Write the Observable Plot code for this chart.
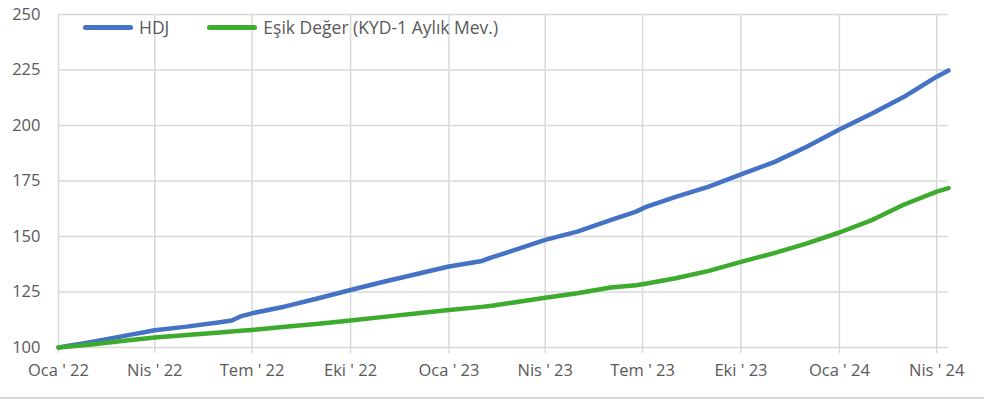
<!DOCTYPE html>
<html>
<head>
<meta charset="utf-8">
<script src="https://cdn.jsdelivr.net/npm/d3@7"></script>
<script src="https://cdn.jsdelivr.net/npm/@observablehq/plot@0.6"></script>
<style>
  html, body { margin: 0; padding: 0; background: #fff; }
  #wrap { position: relative; width: 984px; height: 400px; font-family: "Open Sans", sans-serif; }
  #legend { position: absolute; left: 83px; top: 15px; display: flex; align-items: center; font-size: 17.5px; color: #595959; }
  .sw { display: inline-block; width: 50px; height: 5px; border-radius: 3px; margin-right: 6px; }
  .item { display: flex; align-items: center; margin-right: 38px; }
  #border { position: absolute; left: 0; top: 397px; width: 984px; height: 2px; background: #d9d9d9; }
</style>
</head>
<body>
<div id="wrap">
  <div id="chart"></div>
  <div id="legend"></div>
  <div id="border"></div>
</div>
<script>
const dates = ["2022-01-01","2022-02-01","2022-03-01","2022-04-01","2022-05-01","2022-06-01","2022-06-12","2022-06-20","2022-07-01","2022-08-01","2022-09-01","2022-10-01","2022-11-01","2022-12-01",
               "2023-01-01","2023-02-01","2023-02-10","2023-03-01","2023-04-01","2023-05-01","2023-06-01","2023-06-25","2023-07-05","2023-08-01","2023-09-01","2023-10-01","2023-11-01","2023-12-01",
               "2024-01-01","2024-02-01","2024-03-01","2024-04-01","2024-04-12"];
const hdj = [100, 102.5, 105, 107.8, 109.4, 111.4, 112.2, 114.0, 115.4, 118.5, 122.2, 125.9, 129.6, 133,
             136.5, 139.0, 140.6, 143.5, 148.5, 152.2, 157.4, 161.2, 163.5, 167.8, 172.5, 178, 183.5, 190.3,
             198.2, 205.5, 212.8, 222, 224.8];
const esik = [100, 101.4, 102.9, 104.5, 105.6, 106.8, 107.2, 107.5, 107.9, 109.3, 110.7, 112.2, 113.8, 115.3,
              116.9, 118.3, 118.8, 120.2, 122.4, 124.4, 127.0, 128.0, 128.8, 131.2, 134.5, 138.6, 142.5, 146.8,
              151.8, 157.5, 164.3, 170.2, 171.8];
const seriesNames = ["HDJ", "Eşik Değer (KYD-1 Aylık Mev.)"];
const seriesColors = ["#4472C4", "#3DAB2E"];
const yTicks = [100, 125, 150, 175, 200, 225, 250];
const xTickDates = ["2022-01-01","2022-04-01","2022-07-01","2022-10-01","2023-01-01","2023-04-01","2023-07-01","2023-10-01","2024-01-01","2024-04-01"];
const xTickLabels = ["Oca ' 22","Nis ' 22","Tem ' 22","Eki ' 22","Oca ' 23","Nis ' 23","Tem ' 23","Eki ' 23","Oca ' 24","Nis ' 24"];

const parse = s => new Date(s + "T00:00:00Z");
const rows = [];
dates.forEach((d, i) => {
  rows.push({date: parse(d), value: hdj[i], series: seriesNames[0]});
  rows.push({date: parse(d), value: esik[i], series: seriesNames[1]});
});
const xTicks = xTickDates.map(parse);
const labelOf = new Map(xTicks.map((d, i) => [+d, xTickLabels[i]]));

const chart = Plot.plot({
  width: 984,
  height: 400,
  marginTop: 14,
  marginBottom: 53,
  marginLeft: 58,
  marginRight: 36,
  style: {fontFamily: "Open Sans, sans-serif", fontSize: "16.5px", background: "white"},
  x: {type: "utc", domain: [parse(dates[0]), parse(dates[dates.length - 1])]},
  y: {domain: [100, 250]},
  color: {domain: seriesNames, range: seriesColors},
  marks: [
    Plot.gridY(yTicks, {stroke: "#d9d9d9", strokeOpacity: 1, strokeWidth: 1.5}),
    Plot.gridX(xTicks, {stroke: "#d9d9d9", strokeOpacity: 1, strokeWidth: 1.5}),
    Plot.axisY(yTicks, {tickSize: 0, tickPadding: 18, fill: "#595959", fontSize: 16.5, label: null}),
    Plot.axisX(xTicks, {tickSize: 6, stroke: "#d9d9d9", strokeWidth: 1.5, tickPadding: 11, fill: "#595959", fontSize: 16.5,
      tickFormat: d => labelOf.get(+d), label: null}),
    Plot.line(rows, {x: "date", y: "value", z: "series", stroke: "series", strokeWidth: 4.5, strokeLinejoin: "round", strokeLinecap: "round"})
  ]
});
document.getElementById("chart").appendChild(chart);

const legend = document.getElementById("legend");
seriesNames.forEach((n, i) => {
  const it = document.createElement("div");
  it.className = "item";
  const sw = document.createElement("span");
  sw.className = "sw";
  sw.style.background = seriesColors[i];
  const t = document.createElement("span");
  t.textContent = n;
  it.appendChild(sw); it.appendChild(t);
  legend.appendChild(it);
});
</script>
</body>
</html>
